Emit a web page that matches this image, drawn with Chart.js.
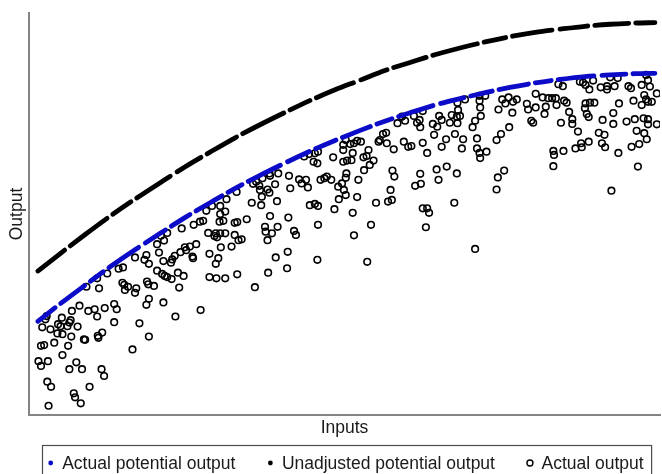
<!DOCTYPE html>
<html>
<head>
<meta charset="utf-8">
<script src="https://cdn.jsdelivr.net/npm/chart.js@4.4.1/dist/chart.umd.min.js"></script>
<style>
  html, body { margin: 0; padding: 0; background: #fff; }
  #wrap { width: 662px; height: 474px; }
</style>
</head>
<body>
<div id="wrap"><canvas id="frontierChart" width="662" height="474"></canvas></div>
<script>
// --- Data (arbitrary units, 0-100 on both axes) ---

// inputs sampled along the two frontier curves
const curveInputs = [1.4, 4.9, 8.9, 12.8, 16.8, 20.8, 24.7, 28.7, 32.6, 36.6, 40.6, 44.5, 48.5,
    52.5, 56.4, 60.4, 64.3, 68.3, 72.3, 76.2, 80.2, 84.2, 88.1, 92.1, 96.0, 99.2];
const potentialOutput = [23.3, 27.6, 32.3, 36.8, 41.1, 45.2, 49.1, 52.8, 56.3, 59.6, 62.7, 65.6, 68.3,
    70.8, 73.1, 75.2, 77.1, 78.7, 80.2, 81.5, 82.6, 83.5, 84.2, 84.6, 84.9, 85.0];
const unadjustedOutput = [35.8, 40.1, 44.9, 49.4, 53.7, 57.8, 61.7, 65.4, 68.9, 72.2, 75.3, 78.2, 80.9,
    83.3, 85.7, 87.7, 89.6, 91.3, 92.8, 94.1, 95.2, 96.0, 96.7, 97.2, 97.5, 97.6];

// observed firms
const actualInputs = [
    16.8, 18.6, 18.3, 19.0, 20.6, 21.3, 22.5, 22.7, 23.1, 24.0, 25.9, 14.9, 14.2, 12.4, 10.8, 9.1, 11.1, 14.8, 15.1, 15.2,
    15.7, 17.0, 16.8, 18.7, 18.9, 19.8, 20.3, 21.1, 21.5, 21.9, 22.6, 23.6, 24.5, 23.8, 19.0, 18.6, 21.3, 23.2, 17.5, 19.0,
    16.4, 13.5, 13.9, 13.5, 12.0, 10.4, 9.4, 10.8, 8.0, 6.8, 5.2, 2.8, 2.6, 2.1, 3.4, 4.6, 5.0, 6.6, 6.4, 6.1,
    7.7, 4.5, 5.3, 6.7, 8.7, 8.9, 10.9, 11.6, 11.0, 4.0, 1.9, 2.4, 6.2, 5.3, 1.5, 1.9, 3.0, 7.5, 6.4, 8.4,
    11.5, 11.9, 9.6, 2.9, 3.5, 7.1, 7.3, 8.2, 3.1, 27.2, 20.9, 21.9, 20.3, 21.4, 24.9,
    43.6, 44.4, 45.3, 45.8, 48.2, 45.1, 45.7, 41.2, 39.5, 38.1, 38.2, 39.0, 37.0, 36.0, 35.5, 36.5, 36.6, 37.8, 38.1, 39.3,
    36.9, 36.8, 35.3, 32.9, 31.3, 30.3, 29.0, 28.1, 30.3, 31.1, 30.8, 30.2, 27.6, 27.1, 26.1, 24.2, 32.6, 33.0, 34.5, 38.2,
    37.4, 39.4, 41.1, 37.5, 38.5, 37.8, 42.0, 42.3, 32.6, 33.7, 33.2, 32.1, 31.1, 30.3, 29.6, 29.4, 29.8, 28.4, 30.4, 26.5,
    25.5, 24.7, 26.0, 28.6, 30.0, 29.6, 41.4, 42.8, 43.2, 44.2, 43.9, 44.5, 45.3, 45.8, 45.8, 48.4, 49.1, 47.2, 47.9, 49.0,
    46.2, 46.8, 41.0, 39.1, 40.9, 37.9, 45.7, 33.0, 31.1, 29.7, 28.6, 35.8,
    72.3, 71.4, 71.4, 71.5, 69.1, 67.9, 68.0, 67.8, 68.3, 67.0, 66.7, 67.9, 67.5, 68.8, 68.6, 71.0, 71.0, 71.4, 71.5, 72.5,
    70.7, 70.3, 71.6, 65.0, 65.4, 64.7, 64.0, 64.2, 66.1, 65.4, 62.4, 61.0, 61.9, 61.5, 62.0, 59.1, 58.4, 59.6, 59.4, 60.1,
    60.6, 62.4, 63.1, 57.8, 56.7, 55.6, 55.4, 56.1, 56.6, 52.0, 52.6, 51.5, 50.9, 50.2, 49.8, 49.8, 51.3, 53.8, 53.5, 53.0,
    51.1, 50.4, 49.8, 54.6, 54.0, 53.1, 50.3, 50.2, 49.6, 49.9, 50.2, 52.2, 52.0, 57.6, 57.9, 62.0, 62.1, 61.2, 64.6, 64.9,
    66.2, 67.8, 57.3, 56.9, 57.5, 55.0, 51.3, 54.2, 51.5, 53.6, 62.4, 63.1, 63.4, 62.9, 67.4, 70.7,
    83.9, 84.6, 87.3, 87.8, 88.2, 88.8, 89.4, 90.6, 91.6, 91.6, 92.1, 92.8, 93.3, 95.0, 95.4, 97.1, 97.8, 98.1, 98.4, 99.5,
    97.5, 97.8, 98.1, 98.7, 97.1, 95.8, 93.5, 92.6, 92.6, 90.9, 90.3, 91.2, 90.8, 91.3, 93.4, 94.7, 96.0, 97.4, 98.1, 98.1,
    99.5, 96.3, 97.5, 97.9, 96.7, 95.5, 88.7, 87.5, 86.6, 87.6, 87.0, 86.1, 86.1, 85.6, 84.3, 84.7, 83.1, 83.2, 83.1, 89.6,
    88.9, 88.2, 88.1, 88.4, 88.7, 85.2, 84.8, 83.6, 83.5, 82.9, 82.3, 81.4, 80.3, 80.3, 79.1, 78.9, 81.7, 81.9, 79.6, 79.9,
    76.6, 76.1, 74.8, 74.1, 75.3, 74.3, 74.1, 92.3, 96.5, 77.3, 76.7, 76.0, 75.0, 74.4, 75.5
];
const actualOutputs = [
    39.2, 39.8, 38.6, 37.6, 40.4, 38.3, 37.9, 38.7, 39.6, 40.5, 39.4, 36.7, 36.4, 35.2, 34.0, 31.9, 31.5, 32.9, 32.4, 31.1,
    31.9, 31.5, 30.4, 33.2, 32.5, 32.1, 35.9, 35.1, 34.6, 34.3, 33.8, 35.4, 34.6, 31.7, 28.9, 27.4, 28.0, 24.5, 22.8, 19.5,
    16.3, 27.6, 26.3, 23.1, 26.6, 26.3, 25.9, 24.5, 27.2, 25.9, 24.2, 24.6, 23.8, 21.8, 21.3, 22.6, 22.1, 23.6, 23.0, 22.1,
    22.0, 20.3, 20.1, 19.5, 18.8, 18.7, 19.7, 20.5, 19.2, 18.0, 17.2, 17.4, 17.2, 14.9, 13.4, 12.2, 13.4, 13.1, 11.4, 11.4,
    11.4, 9.7, 7.0, 8.3, 7.0, 5.4, 4.4, 2.9, 2.3, 26.1, 44.6, 45.3, 42.5, 43.4, 41.0,
    64.3, 64.9, 65.1, 65.5, 64.1, 63.0, 62.6, 59.5, 60.1, 60.1, 59.5, 57.4, 58.9, 58.0, 57.5, 57.0, 56.0, 56.1, 55.3, 53.2,
    54.3, 52.2, 52.8, 55.5, 53.7, 52.0, 52.0, 50.8, 50.0, 50.6, 48.3, 48.1, 48.3, 48.1, 47.3, 46.4, 47.8, 48.0, 48.7, 49.5,
    46.8, 46.8, 49.1, 45.6, 45.2, 43.5, 45.8, 44.8, 44.8, 43.7, 43.5, 41.9, 45.2, 45.2, 45.2, 44.5, 44.2, 45.3, 41.7, 42.5,
    41.9, 41.7, 39.0, 40.1, 39.0, 37.6, 56.4, 58.6, 57.6, 56.6, 58.5, 52.2, 52.5, 52.0, 47.3, 51.2, 53.7, 59.3, 58.5, 56.8,
    58.5, 58.9, 40.6, 39.2, 36.5, 35.4, 38.6, 35.0, 34.0, 34.0, 34.3, 31.8,
    79.4, 79.4, 78.2, 76.5, 78.5, 77.7, 75.9, 74.2, 74.4, 74.6, 72.7, 72.6, 69.9, 68.6, 66.3, 68.8, 66.3, 65.2, 63.9, 65.5,
    73.2, 71.6, 74.4, 74.4, 73.4, 71.7, 72.4, 69.7, 68.6, 66.7, 75.6, 74.4, 73.4, 72.7, 71.6, 74.2, 72.6, 73.2, 68.0, 66.7,
    66.9, 67.7, 65.2, 66.1, 67.6, 68.4, 68.0, 69.9, 70.2, 68.2, 68.0, 67.6, 67.4, 68.4, 67.2, 65.9, 65.2, 65.9, 64.4, 64.1,
    63.4, 63.3, 63.0, 63.3, 62.2, 60.9, 60.1, 59.0, 57.6, 56.0, 54.7, 58.5, 54.2, 60.8, 59.3, 60.0, 57.5, 57.0, 61.1, 58.5,
    61.8, 60.1, 56.0, 53.1, 53.5, 52.8, 50.3, 47.3, 44.7, 38.1, 51.4, 51.4, 50.3, 46.7, 52.8, 41.3,
    82.3, 81.8, 82.9, 82.7, 82.1, 81.0, 83.2, 81.5, 81.8, 81.0, 84.0, 81.8, 83.8, 81.8, 81.3, 82.1, 84.6, 83.3, 81.7, 80.0,
    79.6, 78.5, 77.9, 77.9, 77.1, 78.2, 77.5, 75.1, 72.4, 73.4, 70.2, 69.7, 67.6, 66.6, 65.2, 73.0, 73.6, 73.8, 73.6, 72.3,
    72.3, 70.7, 70.1, 68.6, 67.4, 66.7, 68.0, 67.6, 66.3, 66.6, 70.5, 73.6, 72.4, 75.4, 72.7, 65.7, 65.7, 64.7, 61.9, 77.7,
    77.7, 77.5, 76.3, 74.9, 74.1, 77.7, 78.2, 77.1, 78.8, 78.8, 78.8, 79.0, 79.9, 76.5, 76.0, 77.4, 74.9, 76.7, 73.2, 72.7,
    75.2, 71.6, 69.9, 68.4, 60.8, 59.1, 56.1, 55.8, 61.8, 78.5, 77.9, 79.0, 78.5, 76.0, 77.5
];

const seriesLabels = ['Actual potential output', 'Unadjusted potential output', 'Actual output'];
const seriesColors = ['#0c0cc8', '#000000', '#000000'];

// --- Build point lists ---
const potentialPoints = curveInputs.map((x, i) => ({ x: x, y: potentialOutput[i] }));
const unadjustedPoints = curveInputs.map((x, i) => ({ x: x, y: unadjustedOutput[i] }));
const actualPoints = actualInputs.map((x, i) => ({ x: x, y: actualOutputs[i] }));

const FONT = '"Liberation Sans", Arial, sans-serif';
Chart.defaults.font.family = FONT;
Chart.defaults.color = '#1a1a1a';

// boxed legend underneath the x-axis title
const boxLegend = {
    id: 'boxLegend',
    afterDraw(chart) {
        const ctx = chart.ctx;
        const area = chart.chartArea;
        const y = 463;
        ctx.save();
        ctx.font = '17.5px ' + FONT;
        ctx.textBaseline = 'middle';
        let x = area.left + 21.7;
        let textEnd = x;
        seriesLabels.forEach((label, i) => {
            ctx.beginPath();
            if (i === 2) {
                ctx.arc(x, y, 3, 0, Math.PI * 2);
                ctx.lineWidth = 1.4;
                ctx.strokeStyle = seriesColors[i];
                ctx.stroke();
            } else {
                ctx.arc(x, y, 2.4, 0, Math.PI * 2);
                ctx.fillStyle = seriesColors[i];
                ctx.fill();
            }
            ctx.fillStyle = '#1a1a1a';
            ctx.fillText(label, x + 11.5, y + 1);
            textEnd = x + 11.5 + ctx.measureText(label).width;
            x = textEnd + 35;
        });
        ctx.strokeStyle = '#4d4d4d';
        ctx.lineWidth = 1.2;
        ctx.strokeRect(area.left + 13.5, 445.5, textEnd + 8 - (area.left + 13.5), 40);
        ctx.restore();
    }
};

const ctx = document.getElementById('frontierChart').getContext('2d');
const chart = new Chart(ctx, {
    type: 'scatter',
    data: {
        datasets: [{
            label: seriesLabels[0],
            data: potentialPoints,
            showLine: true,
            borderColor: seriesColors[0],
            borderWidth: 4.8,
            borderDash: [22, 7, 30, 7, 16, 7, 36, 8, 24, 7],
            borderCapStyle: 'round',
            cubicInterpolationMode: 'monotone',
            pointRadius: 0,
            fill: false
        }, {
            label: seriesLabels[1],
            data: unadjustedPoints,
            showLine: true,
            borderColor: seriesColors[1],
            borderWidth: 4.8,
            borderDash: [34, 7, 46, 7, 22, 7, 40, 8, 28, 7],
            borderCapStyle: 'round',
            cubicInterpolationMode: 'monotone',
            pointRadius: 0,
            fill: false
        }, {
            label: seriesLabels[2],
            data: actualPoints,
            pointStyle: 'circle',
            pointRadius: 3.3,
            pointBorderWidth: 1.6,
            borderColor: seriesColors[2],
            pointBorderColor: seriesColors[2],
            backgroundColor: 'rgba(0,0,0,0)',
            pointBackgroundColor: 'rgba(0,0,0,0)'
        }]
    },
    options: {
        responsive: false,
        animation: false,
        devicePixelRatio: 1,
        events: [],
        layout: {
            autoPadding: false,
            padding: { top: 13, right: 2, bottom: 35.5, left: 0 }
        },
        plugins: {
            legend: { display: false },
            tooltip: { enabled: false }
        },
        scales: {
            x: {
                type: 'linear',
                min: 0,
                max: 100,
                grid: { display: false, drawTicks: false },
                ticks: { display: false },
                border: { display: true, color: '#858585', width: 2 },
                title: {
                    display: true,
                    text: 'Inputs',
                    color: '#1a1a1a',
                    font: { size: 17.5 },
                    padding: { top: 2.5, bottom: 0 }
                }
            },
            y: {
                type: 'linear',
                min: 0,
                max: 100,
                grid: { display: false, drawTicks: false },
                ticks: { display: false },
                border: { display: true, color: '#858585', width: 2 },
                title: {
                    display: true,
                    text: 'Output',
                    color: '#1a1a1a',
                    font: { size: 17.5 },
                    padding: { top: 7, bottom: 1 }
                }
            }
        }
    },
    plugins: [boxLegend]
});
</script>
</body>
</html>
